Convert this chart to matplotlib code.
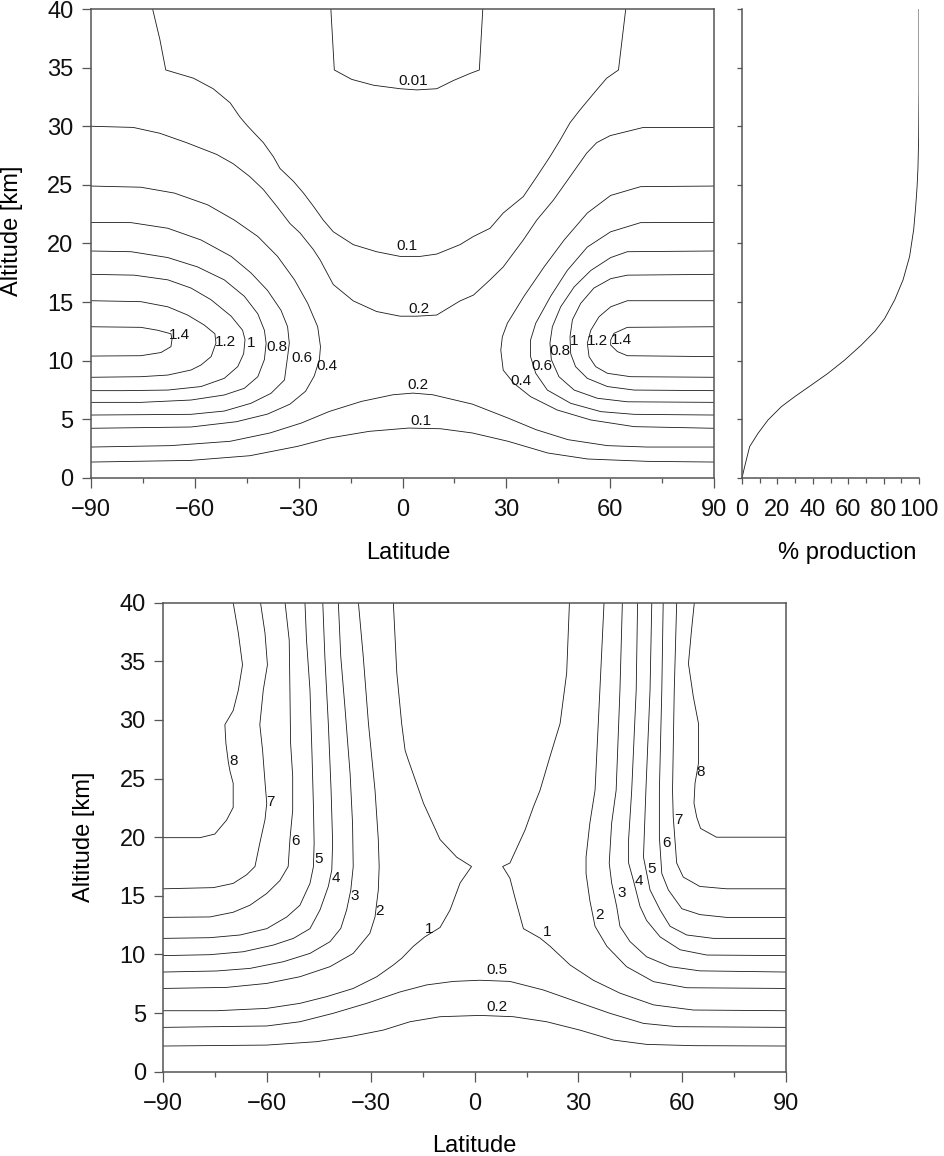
import matplotlib
matplotlib.use("Agg")
import matplotlib.pyplot as plt
from matplotlib.ticker import MultipleLocator

plt.rcParams['font.family'] = ['Liberation Sans', 'DejaVu Sans']

# ---------------- data: upper panel contours (lat, alt) ----------------
LAT_TICKS = [-90, -60, -30, 0, 30, 60, 90]
ALT_TICKS = [0, 5, 10, 15, 20, 25, 30, 35, 40]
PROD_TICKS = [0, 20, 40, 60, 80, 100]

T14L_LAT = [-90, -75.6, -70.7, -66.9, -66.6, -66.9, -69.8, -75.6, -90]
T14L_ALT = [12.9, 12.85, 12.6, 12.3, 11.8, 11.2, 10.7, 10.43, 10.4]
T12L_LAT = [-90, -75.6, -67.8, -62.1, -57.3, -54.2, -53.9, -55.3, -58.2, -61.1, -67.8, -75.6, -90]
T12L_ALT = [15.12, 15.04, 14.6, 13.9, 13.05, 12.3, 11.5, 10.35, 9.64, 9.21, 8.78, 8.64, 8.59]
T10L_LAT = [-90, -77.5, -67.8, -61.1, -55.3, -49.5, -46.2, -45.5, -45.9, -47.6, -51.5, -58.2, -67.8, -80.4, -90]
T10L_ALT = [17.37, 17.3, 16.9, 16.2, 15.2, 13.8, 12.6, 11.8, 10.6, 9.5, 8.5, 7.8, 7.5, 7.45, 7.45]
T08L_LAT = [-90, -78.4, -67.8, -59.2, -51.5, -45.7, -41.8, -39.9, -39.4, -39.9, -41.8, -45.7, -51.5, -61.1, -75.6, -90]
T08L_ALT = [19.36, 19.3, 18.8, 18.0, 16.9, 15.5, 14.0, 12.6, 11.5, 10.1, 8.64, 7.65, 7.08, 6.65, 6.45, 6.45]
T06L_LAT = [-90, -78.4, -67.8, -58.2, -49.5, -43.8, -39.0, -35.1, -33.2, -32.7, -33.2, -34.1, -38.0, -43.8, -51.5, -61.1, -90]
T06L_ALT = [21.8, 21.78, 21.3, 20.3, 18.9, 17.5, 16.0, 14.3, 12.9, 11.5, 10.35, 8.36, 7.22, 6.37, 5.71, 5.43, 5.37]
T04L_LAT = [-90, -75.6, -65.9, -56.3, -48.6, -41.8, -36.1, -31.2, -27.4, -24.5, -23.7, -24.0, -25.5, -28.0, -32.5, -39.0, -48.0, -61.1, -90]
T04L_ALT = [24.9, 24.8, 24.3, 23.3, 22.0, 20.6, 18.9, 16.9, 14.9, 12.9, 11.2, 10.1, 8.7, 7.4, 6.3, 5.45, 4.8, 4.35, 4.24]

T14R_LAT = [90, 64.96, 61.1, 60.15, 60.15, 62.1, 64.96, 90]
T14R_ALT = [12.9, 12.85, 12.34, 11.77, 11.34, 10.78, 10.43, 10.35]
T12R_LAT = [90, 64.96, 60.15, 56.8, 54.4, 53.4, 53.9, 55.8, 59.2, 65.9, 90]
T12R_ALT = [15.12, 15.12, 14.6, 13.76, 12.6, 11.5, 10.35, 9.5, 8.93, 8.64, 8.59]
T10R_LAT = [90, 64.96, 60.15, 55.3, 51.5, 49.1, 48.4, 48.6, 50.0, 53.4, 59.2, 66.9, 90]
T10R_ALT = [17.37, 17.3, 17.0, 16.2, 14.9, 13.5, 12.05, 10.6, 9.5, 8.5, 7.8, 7.5, 7.45]
T08R_LAT = [90, 64.96, 60.15, 54.4, 49.6, 45.7, 43.3, 42.6, 43.0, 45.2, 49.6, 56.3, 64.96, 90]
T08R_ALT = [19.36, 19.3, 18.8, 17.7, 16.3, 14.6, 12.9, 11.5, 10.1, 8.64, 7.5, 6.8, 6.5, 6.45]
T06R_LAT = [90, 68.8, 60.15, 53.4, 47.6, 42.8, 38.5, 37.0, 37.0, 38.5, 41.85, 48.6, 57.3, 66.9, 90]
T06R_ALT = [21.8, 21.78, 21.0, 19.7, 17.7, 15.5, 13.2, 11.77, 10.35, 8.93, 7.5, 6.37, 5.66, 5.43, 5.37]
T04R_LAT = [90, 68.8, 60.15, 53.4, 46.7, 40.9, 35.1, 30.3, 28.85, 28.4, 29.1, 32.2, 37.0, 44.7, 54.4, 66.9, 90]
T04R_ALT = [24.9, 24.85, 24.1, 22.6, 20.3, 18.0, 15.5, 13.2, 12.05, 10.9, 9.2, 8.07, 6.94, 5.8, 4.95, 4.38, 4.24]

T02U_LAT = [-90, -77.8, -70.1, -62.4, -53.7, -48.9, -44.1, -40.2, -36.4, -32.5, -29.6, -25.8, -23.8, -20.0,
            -14.2, -7.5, -0.7, 4.1, 9.9, 16.6, 20.5, 25.3, 29.1, 34.9, 38.8, 43.6, 48.4, 53.2, 56.1, 60.0, 69.6, 90]
T02U_ALT = [30.0, 29.9, 29.4, 28.6, 27.6, 26.8, 25.7, 24.6, 23.2, 21.7, 20.9, 19.5, 18.6, 16.5,
            15.1, 14.2, 13.8, 13.8, 13.9, 15.1, 15.6, 16.9, 18.0, 20.3, 22.0, 23.7, 25.7, 27.7, 28.6, 29.2, 29.9, 29.9]
T01U_LAT = [-72.2, -70.1, -68.4, -60.4, -54.7, -49.8, -47.0, -45.0, -43.1, -40.2, -37.3, -35.4, -31.5, -28.6,
            -25.8, -22.9, -20.0, -14.2, -7.5, -0.7, 5.1, 9.9, 16.6, 20.5, 25.3, 29.1, 34.9, 38.8, 42.6, 45.5,
            48.4, 51.3, 56.1, 59.0, 62.4, 64.5]
T01U_ALT = [40, 37.4, 34.8, 34.1, 33.2, 32.0, 30.8, 30.1, 29.5, 28.6, 27.4, 26.4, 25.3, 24.3,
            23.2, 22.0, 21.0, 19.9, 19.3, 18.9, 18.9, 19.1, 19.9, 20.6, 21.3, 22.6, 24.0, 25.7, 27.4, 28.8,
            30.3, 31.4, 33.1, 34.1, 34.8, 40]
T001_LAT = [-20.7, -19.7, -14.7, -8.4, -0.7, 4.1, 9.9, 14.7, 19.5, 22.2, 23.2]
T001_ALT = [40, 34.8, 34.0, 33.5, 33.2, 33.1, 33.2, 33.9, 34.5, 34.8, 40]
T02D_LAT = [-90, -67.0, -49.8, -38.3, -29.2, -21.1, -11.9, -2.75, 3.0, 8.7, 20.2, 30.5, 38.6, 47.8, 59.2, 70.7, 90]
T02D_ALT = [2.64, 2.76, 3.13, 3.84, 4.69, 5.68, 6.53, 7.1, 7.24, 7.1, 6.3, 5.11, 4.12, 3.27, 2.76, 2.64, 2.64]
T01D_LAT = [-90, -61.3, -44.1, -30.3, -21.1, -9.6, 1.8, 11.0, 20.2, 30.5, 42.0, 53.5, 70.7, 90]
T01D_ALT = [1.36, 1.5, 1.9, 2.7, 3.41, 3.98, 4.26, 4.2, 3.84, 3.13, 2.13, 1.62, 1.42, 1.36]

# contour labels: text, lat, alt
T_SIDE_TXT = ['1.4', '1.2', '1', '0.8', '0.6', '0.4', '1.4', '1.2', '1', '0.8', '0.6', '0.4']
T_SIDE_LAT = [-67.4, -54.2, -45.0, -39.2, -32.0, -24.8, 60.2, 53.2, 48.4, 42.4, 37.3, 31.3]
T_SIDE_ALT = [12.2, 11.6, 11.5, 11.2, 10.2, 9.55, 11.8, 11.7, 11.7, 10.8, 9.55, 8.27]
T_MID_TXT = ['0.01', '0.1', '0.2', '0.2', '0.1']
T_MID_LAT = [3.2, 1.4, 4.8, 4.6, 5.4]
T_MID_ALT = [33.85, 19.8, 14.4, 7.95, 4.85]

# ---------------- data: production profile ----------------
PROD_PCT = [0, 1.5, 4.3, 9.0, 14.7, 22.2, 29.8, 39.2, 48.6, 58.0, 67.4, 75.0, 80.6, 86.3, 91.0, 94.7, 97.0,
            98.1, 98.9, 99.4, 99.8, 100, 100]
PROD_ALT = [0, 0.97, 2.67, 3.8, 4.95, 6.08, 6.94, 7.93, 8.93, 10.06, 11.34, 12.5, 13.6, 15.2, 16.9, 18.9, 21.2,
            23.1, 24.8, 26.4, 29.0, 33.0, 40]

# ---------------- data: lower panel contours ----------------
B8L_LAT = [-90, -79.4, -75.1, -71.7, -69.8, -69.8, -70.7, -71.2, -71.9, -72.2, -69.8, -68.3, -67.1, -68.3, -69.8]
B8L_ALT = [19.96, 19.96, 20.27, 21.46, 22.54, 24.6, 25.6, 26.4, 28.0, 29.6, 30.8, 32.55, 34.7, 37.4, 40]
B7L_LAT = [-90, -75.5, -69.8, -65.9, -63.5, -62.1, -60.6, -60.1, -60.6, -61.3, -62.1, -61.1, -59.9, -60.6, -61.9]
B7L_ALT = [15.6, 15.7, 16.06, 16.8, 17.5, 19.5, 21.5, 22.9, 24.7, 27.4, 29.6, 32.55, 34.7, 37.4, 40]
B6L_LAT = [-90, -76.5, -69.8, -64.95, -60.1, -56.3, -53.9, -53.4, -52.6, -52.6, -53.2, -53.4, -53.6, -54.8]
B6L_ALT = [13.16, 13.2, 13.6, 14.2, 15.2, 16.3, 17.5, 19.8, 22.3, 25.2, 28.0, 32.55, 36.8, 40]
B5L_LAT = [-90, -76.5, -67.8, -60.1, -54.3, -50.5, -47.6, -46.6, -46.4, -46.6, -47.0, -47.6, -48.6, -49.05]
B5L_ALT = [11.37, 11.43, 11.66, 12.2, 13.2, 14.2, 16.06, 17.5, 19.5, 22.6, 26.9, 32.55, 36.8, 40]
B4L_LAT = [-90, -76.5, -66.9, -58.2, -52.4, -47.6, -44.7, -42.3, -41.3, -41.05, -41.5, -42.3, -43.3, -43.9]
B4L_ALT = [9.9, 9.98, 10.23, 10.8, 11.37, 12.2, 13.8, 15.8, 17.2, 19.5, 24.0, 29.7, 35.4, 40]
B3L_LAT = [-90, -74.6, -64.95, -55.3, -47.6, -41.8, -38.7, -37.0, -35.8, -35.1, -35.3, -36.0, -37.5, -38.7, -39.4]
B3L_ALT = [8.5, 8.59, 8.81, 9.38, 10.09, 11.09, 12.22, 13.8, 15.5, 17.5, 21.2, 25.4, 31.1, 35.4, 40]
B2L_LAT = [-90, -71.7, -60.1, -50.5, -41.8, -35.1, -30.3, -28.8, -27.85, -27.6, -27.85, -28.8, -30.7, -32.2, -33.6]
B2L_ALT = [7.1, 7.19, 7.53, 8.1, 8.96, 10.09, 11.8, 13.2, 15.5, 17.5, 19.8, 24.0, 29.7, 35.4, 40]
B1L_LAT = [-90, -74.6, -60.1, -50.5, -42.8, -35.1, -28.3, -23.5, -21.1, -17.7, -14.4, -10.0, -7.1, -4.2, -0.9,
           -5.2, -10.0, -14.8, -19.2, -20.1, -21.1, -22.5, -23.5]
B1L_ALT = [5.2, 5.2, 5.4, 5.83, 6.4, 7.1, 8.1, 9.1, 9.67, 10.7, 11.5, 12.3, 13.8, 16.1, 17.5,
           18.3, 19.8, 22.9, 26.6, 27.4, 29.7, 34.0, 40]
B1R_LAT = [27.4, 26.6, 24.7, 21.8, 18.9, 17.0, 14.55, 10.2, 8.1, 10.2, 11.6, 14.1, 18.9, 21.8, 27.6, 34.3, 42.0,
           51.7, 63.2, 90]
B1R_ALT = [40, 34.0, 29.7, 26.9, 24.0, 22.6, 20.6, 17.8, 17.5, 16.5, 14.9, 12.2, 11.4, 10.7, 9.1, 7.8, 6.7,
           5.7, 5.26, 5.2]
B2R_LAT = [37.4, 36.2, 34.8, 33.3, 32.2, 32.2, 33.3, 34.8, 38.2, 43.9, 51.7, 61.3, 90]
B2R_ALT = [40, 32.55, 24.0, 21.2, 18.3, 16.9, 14.6, 12.4, 10.7, 8.96, 7.68, 7.16, 7.1]
B3R_LAT = [42.7, 42.0, 40.9, 39.6, 38.9, 39.6, 41.05, 42.0, 44.9, 49.7, 56.5, 65.1, 90]
B3R_ALT = [40, 32.55, 24.0, 21.2, 17.8, 16.1, 14.1, 12.4, 11.1, 9.8, 8.96, 8.6, 8.5]
B4R_LAT = [47.1, 46.7, 45.4, 44.5, 44.5, 45.9, 47.8, 49.7, 53.6, 59.4, 67.1, 90]
B4R_ALT = [40, 32.55, 24.0, 19.8, 17.8, 16.3, 14.1, 12.9, 11.5, 10.4, 9.95, 9.9]
B5R_LAT = [51.2, 50.7, 49.5, 48.8, 50.7, 53.6, 56.5, 61.3, 69.0, 90]
B5R_ALT = [40, 32.55, 24.0, 18.3, 15.5, 13.8, 12.4, 11.66, 11.37, 11.37]
B6R_LAT = [54.5, 54.1, 53.4, 53.4, 54.1, 56.0, 59.9, 65.1, 72.8, 90]
B6R_ALT = [40, 32.55, 24.0, 20.0, 16.9, 15.5, 13.9, 13.4, 13.16, 13.16]
B7R_LAT = [58.4, 57.7, 57.2, 57.4, 58.4, 60.3, 65.1, 72.8, 90]
B7R_ALT = [40, 32.55, 24.0, 21.75, 17.8, 16.6, 15.8, 15.6, 15.6]
B8R_LAT = [63.5, 62.7, 61.8, 63.2, 64.7, 64.7, 63.7, 63.4, 64.2, 65.3, 69.9, 90]
B8R_ALT = [40, 37.7, 34.8, 32.0, 29.7, 26.3, 24.6, 22.9, 21.7, 20.75, 20.0, 20.0]
B05_LAT = [-90, -60.1, -50.5, -40.9, -31.2, -21.6, -13.9, -6.2, 1.5, 10.2, 19.85, 29.5, 39.1, 48.8, 58.4, 90]
B05_ALT = [3.78, 3.9, 4.26, 4.98, 5.83, 6.8, 7.4, 7.7, 7.8, 7.7, 6.97, 5.97, 4.98, 4.12, 3.84, 3.78]
B02_LAT = [-90, -60.1, -45.7, -36.0, -26.4, -18.7, -10.0, 1.5, 11.2, 20.8, 30.4, 40.1, 49.7, 63.2, 90]
B02_ALT = [2.19, 2.27, 2.56, 2.99, 3.55, 4.26, 4.69, 4.8, 4.69, 4.26, 3.55, 2.7, 2.33, 2.22, 2.19]

B_SIDE_TXT = ['8', '7', '6', '5', '4', '3', '2', '1', '1', '2', '3', '4', '5', '6', '7', '8']
B_SIDE_LAT = [-70.9, -60.1, -52.9, -46.2, -41.3, -35.8, -28.8, -14.4, 19.7, 34.8, 41.3, 46.1, 49.9, 54.1, 57.7, 64.2]
B_SIDE_ALT = [26.5, 23.0, 19.7, 18.1, 16.5, 15.0, 13.7, 12.2, 11.9, 13.4, 15.2, 16.3, 17.3, 19.5, 21.5, 25.6]
B_MID_TXT = ['0.5', '0.2']
B_MID_LAT = [6.4, 6.4]
B_MID_ALT = [8.67, 5.49]

TOP_LINES = [(T14L_LAT, T14L_ALT), (T12L_LAT, T12L_ALT), (T10L_LAT, T10L_ALT), (T08L_LAT, T08L_ALT),
             (T06L_LAT, T06L_ALT), (T04L_LAT, T04L_ALT), (T14R_LAT, T14R_ALT), (T12R_LAT, T12R_ALT),
             (T10R_LAT, T10R_ALT), (T08R_LAT, T08R_ALT), (T06R_LAT, T06R_ALT), (T04R_LAT, T04R_ALT),
             (T02U_LAT, T02U_ALT), (T01U_LAT, T01U_ALT), (T001_LAT, T001_ALT), (T02D_LAT, T02D_ALT),
             (T01D_LAT, T01D_ALT)]
BOT_LINES = [(B8L_LAT, B8L_ALT), (B7L_LAT, B7L_ALT), (B6L_LAT, B6L_ALT), (B5L_LAT, B5L_ALT),
             (B4L_LAT, B4L_ALT), (B3L_LAT, B3L_ALT), (B2L_LAT, B2L_ALT), (B1L_LAT, B1L_ALT),
             (B1R_LAT, B1R_ALT), (B2R_LAT, B2R_ALT), (B3R_LAT, B3R_ALT), (B4R_LAT, B4R_ALT),
             (B5R_LAT, B5R_ALT), (B6R_LAT, B6R_ALT), (B7R_LAT, B7R_ALT), (B8R_LAT, B8R_ALT),
             (B05_LAT, B05_ALT), (B02_LAT, B02_ALT)]

# ---------------- drawing ----------------
W, H = 944, 1156
fig = plt.figure(figsize=(W / 100, H / 100), dpi=100)
fig.patch.set_facecolor('white')

SPINE_C = '#555555'
LINE_C = '#1a1a1a'
TICK_FS = 17
LAB_FS = 17
CL_FS = 11


def style_axes(ax, spines=('left', 'bottom', 'top', 'right')):
    for s in ('left', 'bottom', 'top', 'right'):
        ax.spines[s].set_visible(s in spines)
        ax.spines[s].set_color(SPINE_C)
        ax.spines[s].set_linewidth(1.1)
    ax.tick_params(which='both', direction='out', color=SPINE_C, width=0.9,
                   labelsize=TICK_FS, labelcolor='#111111')


def latlon_axes(rect):
    ax = fig.add_axes(rect)
    style_axes(ax)
    ax.set_xlim(-90, 90)
    ax.set_ylim(0, 40)
    ax.set_xticks(LAT_TICKS)
    ax.xaxis.set_minor_locator(MultipleLocator(15))
    ax.set_yticks(ALT_TICKS)
    ax.tick_params(axis='x', which='major', length=7.2, pad=8)
    ax.tick_params(axis='x', which='minor', length=3.3)
    ax.tick_params(axis='y', which='major', length=6.6, pad=6)
    ax.set_xlabel('Latitude', fontsize=LAB_FS)
    ax.set_ylabel('Altitude [km]', fontsize=LAB_FS)
    return ax


ax1 = latlon_axes([91 / W, (H - 478) / H, 623 / W, 469 / H])
ax1.xaxis.set_label_coords(0.51, -0.136)
ax1.yaxis.set_label_coords(-0.1096, 0.527)
for la, al in TOP_LINES:
    ax1.plot(la, al, color=LINE_C, lw=0.6)
for t, la, al in zip(T_SIDE_TXT, T_SIDE_LAT, T_SIDE_ALT):
    ax1.text(la, al, t, fontsize=CL_FS, ha='left', va='center', color='#111111')
for t, la, al in zip(T_MID_TXT, T_MID_LAT, T_MID_ALT):
    ax1.text(la, al, t, fontsize=CL_FS, ha='center', va='center', color='#111111')

ax2 = fig.add_axes([742 / W, (H - 478) / H, 177 / W, 469 / H])
style_axes(ax2, spines=('left', 'bottom'))
ax2.plot(PROD_PCT, PROD_ALT, color=LINE_C, lw=0.6)
ax2.set_xlim(0, 100)
ax2.set_ylim(0, 40)
ax2.set_xticks(PROD_TICKS)
ax2.xaxis.set_minor_locator(MultipleLocator(10))
ax2.set_yticks(ALT_TICKS)
ax2.set_yticklabels([])
ax2.tick_params(axis='x', which='major', length=4.3, pad=11)
ax2.tick_params(axis='x', which='minor', length=3.3)
ax2.tick_params(axis='y', which='major', length=3.8)
ax2.set_xlabel('% production', fontsize=LAB_FS)
ax2.xaxis.set_label_coords(0.5915, -0.136)

ax3 = latlon_axes([163.3 / W, (H - 1071.7) / H, 622.7 / W, 469 / H])
ax3.xaxis.set_label_coords(0.5, -0.136)
ax3.yaxis.set_label_coords(-0.1096, 0.5)
for la, al in BOT_LINES:
    ax3.plot(la, al, color=LINE_C, lw=0.6)
for t, la, al in zip(B_SIDE_TXT, B_SIDE_LAT, B_SIDE_ALT):
    ax3.text(la, al, t, fontsize=CL_FS, ha='left', va='center', color='#111111')
for t, la, al in zip(B_MID_TXT, B_MID_LAT, B_MID_ALT):
    ax3.text(la, al, t, fontsize=CL_FS, ha='center', va='center', color='#111111')

fig.savefig('out.png', dpi=100, facecolor='white')
